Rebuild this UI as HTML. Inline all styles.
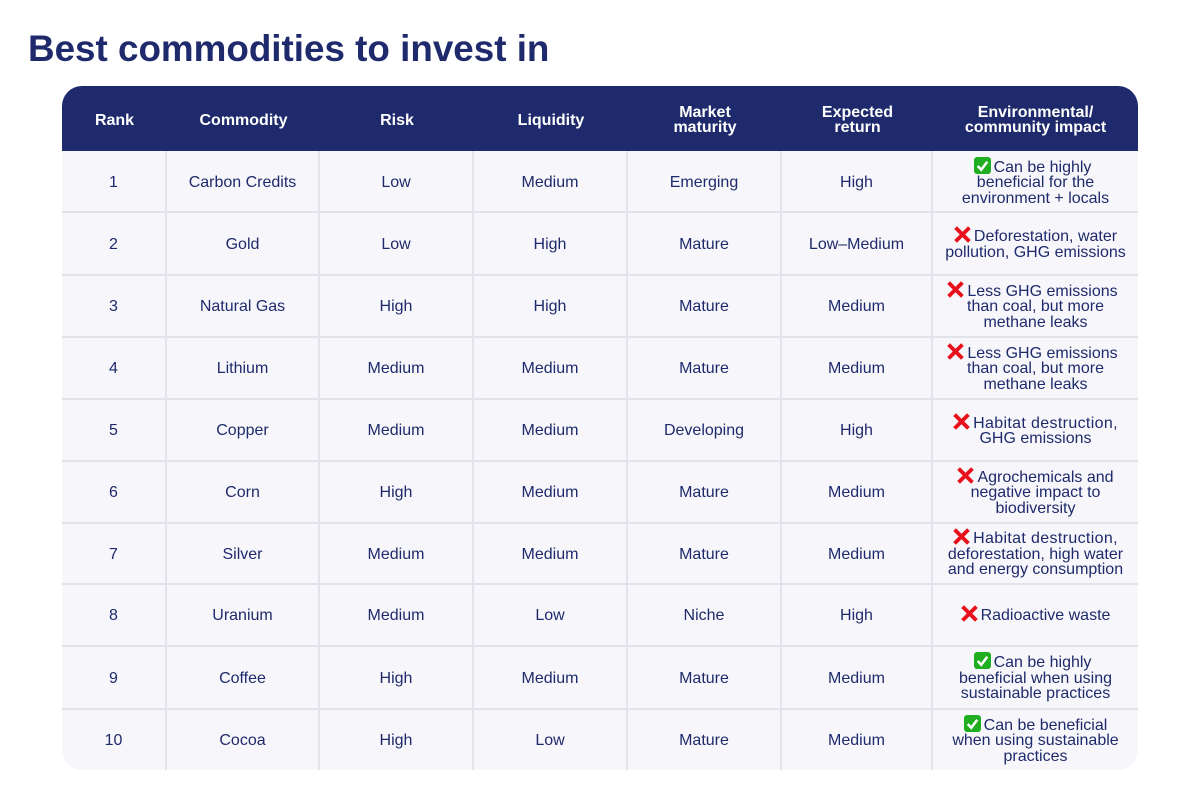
<!DOCTYPE html>
<html lang="en">
<head>
<meta charset="utf-8">
<title>Best commodities to invest in</title>
<style>
html,body{margin:0;padding:0;background:#fff;}
body{width:1200px;height:800px;position:relative;overflow:hidden;font-family:"Liberation Sans",sans-serif;color:#1e2a6b;}
h1{position:absolute;left:28px;top:28px;margin:0;font-size:36.8px;line-height:42px;font-weight:700;color:#1e2a6b;white-space:nowrap;}
#tbl{position:absolute;left:62px;top:86px;width:1076px;height:684px;border-radius:20px;overflow:hidden;background:#f7f7fb;display:grid;
grid-template-columns:105px 153px 154px 154px 154px 151px 205px;
grid-template-rows:65px 62px 63px 62px 62px 62px 62px 61px 62px 63px 60px;}
.c{display:flex;align-items:center;justify-content:center;text-align:center;font-size:16px;line-height:15.5px;padding-top:2px;box-sizing:border-box;border-right:2px solid #e3e3ec;border-bottom:2px solid #e3e3ec;white-space:nowrap;color:#1e2a6b;}
.h{background:#1e2a6b;color:#fff;font-weight:700;font-size:16px;line-height:15px;padding-top:3px;border:0;}
.r1{padding-top:4px;}
.l{border-right:0;}
.b{border-bottom:0;}
.s{display:inline-block;width:6px;height:1px;}
.w{letter-spacing:.35px;}
svg{display:inline-block;vertical-align:-3px;margin:-4px 3px -4px 0;position:relative;top:-5px;}
</style>
</head>
<body>
<svg width="0" height="0" style="position:absolute">
<defs>
<symbol id="yes" viewBox="0 0 16 16"><rect x="0" y="0" width="16" height="16" rx="3" fill="#1fae1f"/><path d="M3.5 8.5 L6.8 12 L12.5 4.5" fill="none" stroke="#fff" stroke-width="2.4"/></symbol>
<symbol id="no" viewBox="0 0 16 16"><path d="M1.5 1.5 L14.5 14.5 M14.5 1.5 L1.5 14.5" fill="none" stroke="#e8101a" stroke-width="3.6"/></symbol>
</defs>
</svg>
<h1>Best commodities to invest in</h1>
<div id="tbl">
<div class="c h">Rank</div>
<div class="c h">Commodity</div>
<div class="c h">Risk</div>
<div class="c h">Liquidity</div>
<div class="c h">Market<br>maturity</div>
<div class="c h">Expected<br>return</div>
<div class="c h">Environmental/<br>community impact</div>

<div class="c r1">1</div><div class="c r1">Carbon Credits</div><div class="c r1">Low</div><div class="c r1">Medium</div><div class="c r1">Emerging</div><div class="c r1">High</div>
<div class="c l r1"><span><svg width="17" height="17"><use href="#yes"/></svg>Can be highly<i class="s"></i><br>beneficial for the<br>environment + locals</span></div>

<div class="c">2</div><div class="c">Gold</div><div class="c">Low</div><div class="c">High</div><div class="c">Mature</div><div class="c">Low–Medium</div>
<div class="c l"><span><svg width="17" height="17"><use href="#no"/></svg>Deforestation, water<br>pollution, GHG emissions</span></div>

<div class="c">3</div><div class="c">Natural Gas</div><div class="c">High</div><div class="c">High</div><div class="c">Mature</div><div class="c">Medium</div>
<div class="c l"><span><svg width="17" height="17"><use href="#no"/></svg>Less GHG emissions<i class="s"></i><br>than coal, but more<br>methane leaks</span></div>

<div class="c">4</div><div class="c">Lithium</div><div class="c">Medium</div><div class="c">Medium</div><div class="c">Mature</div><div class="c">Medium</div>
<div class="c l"><span><svg width="17" height="17"><use href="#no"/></svg>Less GHG emissions<i class="s"></i><br>than coal, but more<br>methane leaks</span></div>

<div class="c">5</div><div class="c">Copper</div><div class="c">Medium</div><div class="c">Medium</div><div class="c">Developing</div><div class="c">High</div>
<div class="c l"><span><svg width="17" height="17"><use href="#no"/></svg><span class="w">Habitat destruction,</span><br>GHG emissions</span></div>

<div class="c">6</div><div class="c">Corn</div><div class="c">High</div><div class="c">Medium</div><div class="c">Mature</div><div class="c">Medium</div>
<div class="c l"><span><svg width="17" height="17"><use href="#no"/></svg>Agrochemicals and<br>negative impact to<br>biodiversity</span></div>

<div class="c">7</div><div class="c">Silver</div><div class="c">Medium</div><div class="c">Medium</div><div class="c">Mature</div><div class="c">Medium</div>
<div class="c l"><span><svg width="17" height="17"><use href="#no"/></svg><span class="w">Habitat destruction,</span><br>deforestation, high water<br>and energy consumption</span></div>

<div class="c">8</div><div class="c">Uranium</div><div class="c">Medium</div><div class="c">Low</div><div class="c">Niche</div><div class="c">High</div>
<div class="c l"><span><svg width="17" height="17"><use href="#no"/></svg>Radioactive waste</span></div>

<div class="c">9</div><div class="c">Coffee</div><div class="c">High</div><div class="c">Medium</div><div class="c">Mature</div><div class="c">Medium</div>
<div class="c l"><span><svg width="17" height="17"><use href="#yes"/></svg>Can be highly<i class="s"></i><br>beneficial when using<br>sustainable practices</span></div>

<div class="c b">10</div><div class="c b">Cocoa</div><div class="c b">High</div><div class="c b">Low</div><div class="c b">Mature</div><div class="c b">Medium</div>
<div class="c l b"><span><svg width="17" height="17"><use href="#yes"/></svg>Can be beneficial<br>when using sustainable<br>practices</span></div>
</div>
</body>
</html>
